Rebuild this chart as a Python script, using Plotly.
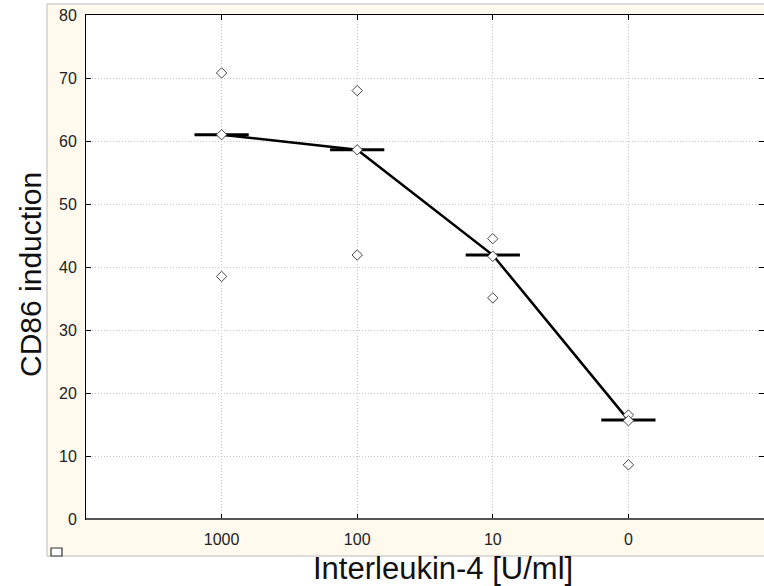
import plotly.graph_objects as go

# ---- data ----
doses = ["1000", "100", "10", "0"]          # Interleukin-4 [U/ml]
obs_high = [70.8, 68.0, 44.5, 16.5]
obs_mid = [61.0, 58.6, 41.7, 15.6]
obs_low = [38.5, 41.9, 35.1, 8.6]
medians = [61.0, 58.6, 41.9, 15.7]
y_ticks = [0, 10, 20, 30, 40, 50, 60, 70, 80]

W, H = 764, 586
L, R, T, B = 86, 0, 15, 67
PW, PH = W - L - R, H - T - B

def px_x(px):
    return (px - L) / PW

def px_y(py):
    return (H - B - py) / PH

pos = list(range(1, len(doses) + 1))
half = 0.2

fig = go.Figure()

# median line
fig.add_trace(go.Scatter(x=pos, y=medians, mode="lines",
                         line=dict(color="black", width=2.5),
                         hoverinfo="skip", showlegend=False))
# median bars
bx, by = [], []
for p, m in zip(pos, medians):
    bx += [p - half, p + half, None]
    by += [m, m, None]
fig.add_trace(go.Scatter(x=bx, y=by, mode="lines",
                         line=dict(color="black", width=3),
                         hoverinfo="skip", showlegend=False))
# raw observations
xs, ys = [], []
for i, p in enumerate(pos):
    for arr in (obs_high, obs_mid, obs_low):
        xs.append(p)
        ys.append(arr[i])
fig.add_trace(go.Scatter(x=xs, y=ys, mode="markers",
                         marker=dict(symbol="diamond", size=8, color="white",
                                     line=dict(color="#444444", width=1)),
                         showlegend=False))

font = "Liberation Sans, Arial, sans-serif"

shapes = [
    # cream panel
    dict(type="rect", xref="paper", yref="paper", layer="below",
         x0=px_x(47), x1=px_x(770), y0=px_y(556), y1=px_y(4),
         fillcolor="#FFF9EE", line=dict(color="#BBBBBB", width=1)),
    # white plot area
    dict(type="rect", xref="paper", yref="paper", layer="below",
         x0=0, x1=1, y0=0, y1=1, fillcolor="white", line=dict(width=0)),
    # small square at bottom-left
    dict(type="rect", xref="paper", yref="paper", layer="above",
         x0=px_x(51), x1=px_x(62), y0=px_y(556), y1=px_y(548),
         fillcolor="white", line=dict(color="#333333", width=1.2)),
    # bottom axis (thicker, dark gray)
    dict(type="line", xref="paper", yref="paper", layer="above",
         x0=0, x1=1, y0=0, y1=0, line=dict(color="#555555", width=2)),
]

grid = dict(showgrid=True, gridcolor="#C8C8C8", griddash="1px,2px", gridwidth=1)

fig.update_layout(
    width=W, height=H,
    margin=dict(l=L, r=R, t=T, b=B, pad=0),
    paper_bgcolor="white", plot_bgcolor="white",
    font=dict(family=font, color="#222222"),
    shapes=shapes,
    annotations=[
        dict(text="CD86 induction", xref="paper", yref="paper",
             x=px_x(30), y=px_y(275), textangle=-90, showarrow=False,
             xanchor="center", yanchor="middle",
             font=dict(size=30, color="#111111", family=font)),
        dict(text="Interleukin-4 [U/ml]", xref="paper", yref="paper",
             x=px_x(443), y=px_y(568), showarrow=False,
             xanchor="center", yanchor="middle",
             font=dict(size=31, color="#111111", family=font)),
    ],
    xaxis=dict(range=[0, 5], tickmode="array", tickvals=pos, ticktext=doses,
               zeroline=False, showline=True, linecolor="black", linewidth=1,
               mirror="ticks", ticks="inside", ticklen=5, tickcolor="black",
               ticklabelstandoff=6,
               tickfont=dict(size=16, color="#222222"), fixedrange=True, **grid),
    yaxis=dict(range=[0, 80], tickmode="array", tickvals=y_ticks,
               zeroline=False, showline=True, linecolor="black", linewidth=1,
               mirror="ticks", ticks="inside", ticklen=5, tickcolor="black",
               ticklabelstandoff=5,
               tickfont=dict(size=16, color="#222222"), fixedrange=True, **grid),
)

fig.write_html("out.html")
